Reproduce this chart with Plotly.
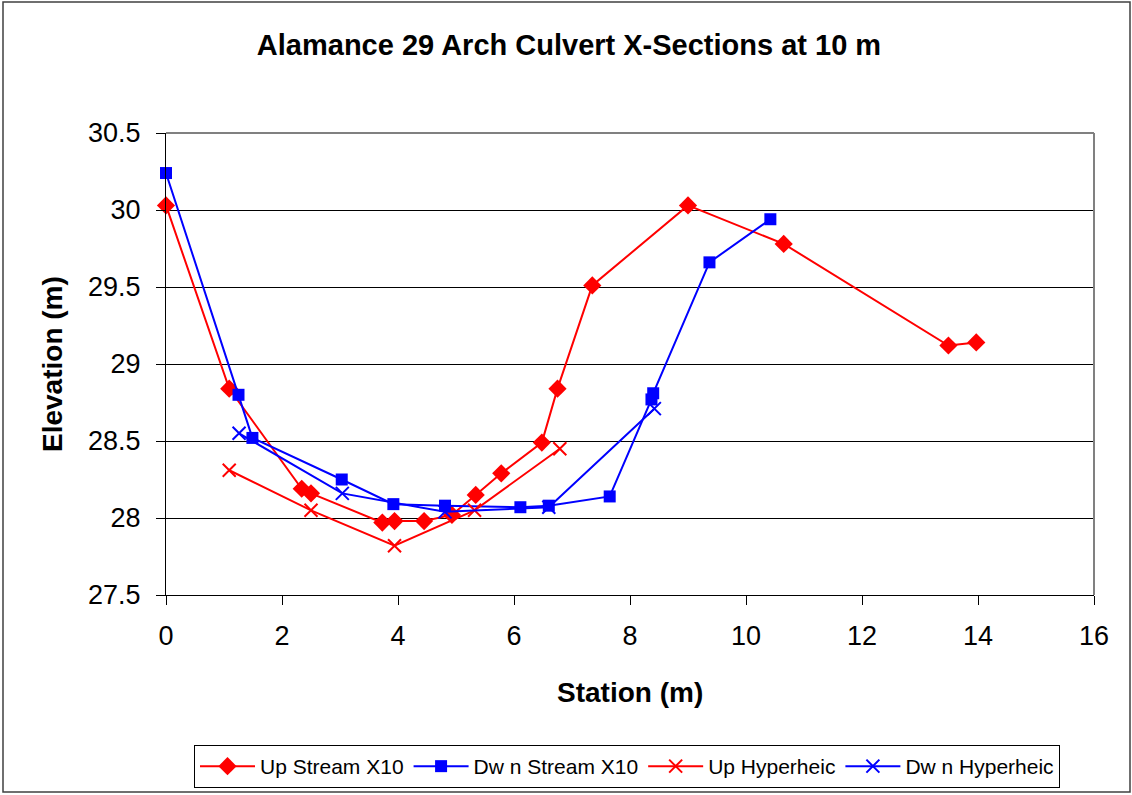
import plotly.graph_objects as go

# Cross-section survey data (station in m, elevation in m)
up_stream_x = [0.0, 1.09, 2.34, 2.50, 3.73, 3.94, 4.45, 4.93, 5.34, 5.78, 6.48, 6.75, 7.35, 9.00, 10.65, 13.49, 13.97]
up_stream_y = [30.03, 28.84, 28.19, 28.16, 27.97, 27.98, 27.98, 28.02, 28.15, 28.29, 28.49, 28.84, 29.51, 30.03, 29.78, 29.12, 29.14]

dwn_stream_x = [0.0, 1.25, 1.49, 3.03, 3.92, 4.81, 6.11, 6.60, 7.65, 8.37, 8.40, 9.37, 10.42]
dwn_stream_y = [30.24, 28.80, 28.52, 28.25, 28.09, 28.08, 28.07, 28.08, 28.14, 28.77, 28.81, 29.66, 29.94]

up_hyp_x = [1.09, 2.50, 3.94, 5.32, 6.79]
up_hyp_y = [28.31, 28.05, 27.82, 28.05, 28.45]

dwn_hyp_x = [1.26, 3.04, 4.81, 6.60, 8.42]
dwn_hyp_y = [28.55, 28.16, 28.04, 28.07, 28.71]

x_ticks = [0, 2, 4, 6, 8, 10, 12, 14, 16]
y_ticks = [27.5, 28, 28.5, 29, 29.5, 30, 30.5]

RED = "#FF0000"
BLUE = "#0000FF"
FONT = "Liberation Sans, Arial, sans-serif"

W, H = 1132, 795
L, R, T, B = 166, 38, 133, 200
PW, PH = W - L - R, H - T - B


def px_to_paper_x(px):
    return (px - L) / PW


def px_to_paper_y(py):
    return (H - B - py) / PH


fig = go.Figure()
fig.add_trace(go.Scatter(
    x=up_stream_x, y=up_stream_y, mode="lines+markers", name="Up Stream X10",
    line=dict(color=RED, width=2), cliponaxis=False,
    marker=dict(symbol="diamond", size=14, color=RED),
))
fig.add_trace(go.Scatter(
    x=dwn_stream_x, y=dwn_stream_y, mode="lines+markers", name="Dw n Stream X10",
    line=dict(color=BLUE, width=2), cliponaxis=False,
    marker=dict(symbol="square", size=12, color=BLUE),
))
fig.add_trace(go.Scatter(
    x=up_hyp_x, y=up_hyp_y, mode="lines+markers", name="Up Hyperheic",
    line=dict(color=RED, width=2), cliponaxis=False,
    marker=dict(symbol="x-thin", size=13, color=RED, line=dict(color=RED, width=2)),
))
fig.add_trace(go.Scatter(
    x=dwn_hyp_x, y=dwn_hyp_y, mode="lines+markers", name="Dw n Hyperheic",
    line=dict(color=BLUE, width=2), cliponaxis=False,
    marker=dict(symbol="x-thin", size=13, color=BLUE, line=dict(color=BLUE, width=2)),
))

axis_common = dict(
    showline=True, linecolor="black", linewidth=1,
    ticks="outside", ticklen=9, tickcolor="black", tickwidth=1,
    tickfont=dict(family=FONT, size=27, color="black"),
    zeroline=False,
)

fig.update_xaxes(
    range=[0, 16], tickvals=x_ticks, ticktext=[str(v) for v in x_ticks],
    showgrid=False, ticklabelstandoff=8, **axis_common,
)
fig.update_yaxes(
    range=[27.5, 30.5], tickvals=y_ticks, ticktext=[f"{v:g}" for v in y_ticks],
    showgrid=True, gridcolor="black", gridwidth=1, ticklabelstandoff=10,
    **axis_common,
)

shapes = [
    # grey frame on the top and right of the plotting area
    dict(type="line", xref="paper", yref="paper", x0=0, x1=1, y0=1, y1=1,
         line=dict(color="#808080", width=2), layer="above"),
    dict(type="line", xref="paper", yref="paper", x0=1, x1=1, y0=0, y1=1,
         line=dict(color="#808080", width=2), layer="above"),
    # outer chart border
    dict(type="rect", xref="paper", yref="paper",
         x0=px_to_paper_x(3), x1=px_to_paper_x(1130),
         y0=px_to_paper_y(792), y1=px_to_paper_y(2),
         line=dict(color="#404040", width=1.5), fillcolor="rgba(0,0,0,0)"),
]

annotations = [
    dict(text="<b>Elevation (m)</b>", xref="paper", yref="paper",
         x=px_to_paper_x(52), y=0.5, textangle=-90, showarrow=False,
         xanchor="center", yanchor="middle",
         font=dict(family=FONT, size=28, color="black")),
    dict(text="<b>Station (m)</b>", xref="paper", yref="paper",
         x=0.5, y=px_to_paper_y(692), showarrow=False,
         xanchor="center", yanchor="middle",
         font=dict(family=FONT, size=28, color="black")),
]

fig.update_layout(
    width=W, height=H,
    margin=dict(l=L, r=R, t=T, b=B),
    paper_bgcolor="white", plot_bgcolor="white",
    title=dict(text="<b>Alamance 29 Arch Culvert X-Sections at 10 m</b>",
               xref="container", yref="container", x=569 / W, y=1 - 45 / H,
               xanchor="center", yanchor="middle",
               font=dict(family=FONT, size=29, color="black")),
    showlegend=True,
    legend=dict(orientation="h", xref="container", yref="container",
                x=194 / W, y=1 - 745 / H, xanchor="left", yanchor="top",
                bordercolor="black", borderwidth=1, bgcolor="white",
                itemwidth=55, tracegroupgap=0,
                font=dict(family=FONT, size=21, color="black")),
    shapes=shapes, annotations=annotations,
)

fig.write_html("out.html")
